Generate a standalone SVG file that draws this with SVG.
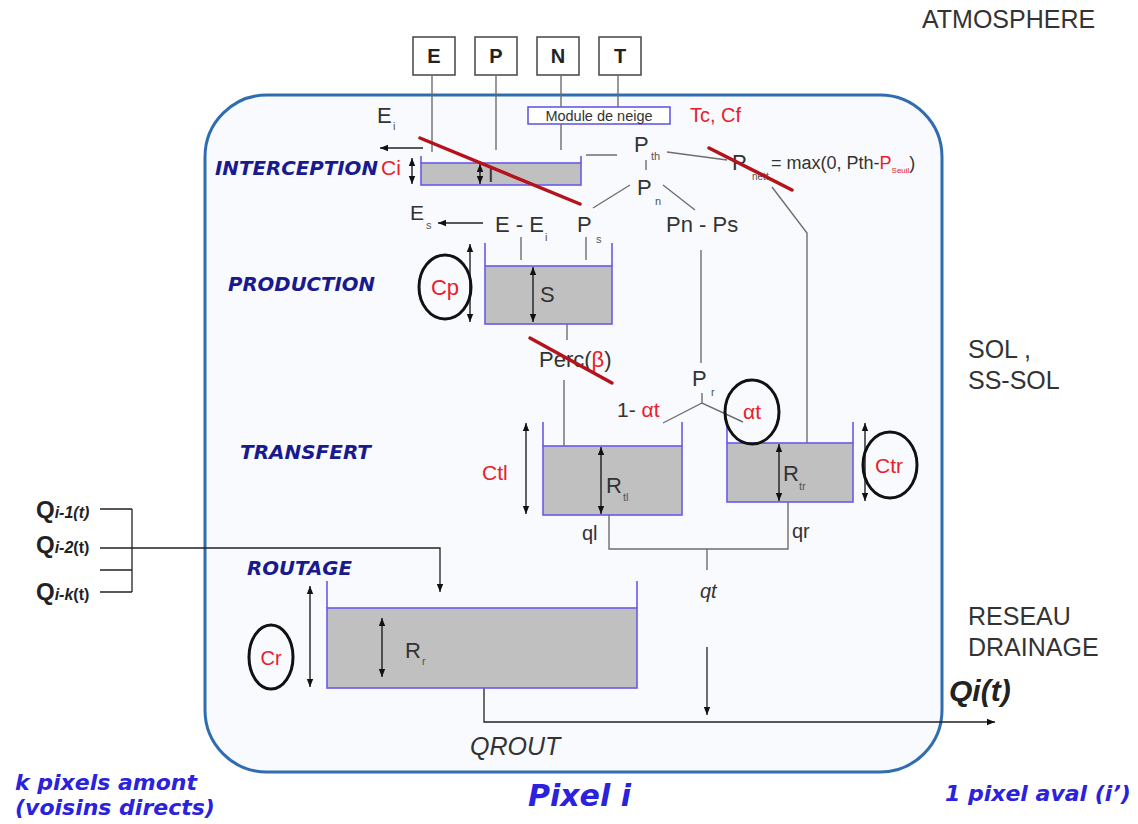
<svg xmlns="http://www.w3.org/2000/svg" width="1138" height="824" viewBox="0 0 1138 824">
<defs>
<style>
.sans{font-family:"Liberation Sans",Arial,sans-serif;fill:#333}
.sub{font-family:"Liberation Sans",Arial,sans-serif;fill:#555}
.lbl{font-family:"DejaVu Sans",Verdana,sans-serif;font-weight:bold;font-style:italic;fill:#1a1a8f;font-size:19.5px}
.blue{font-family:"DejaVu Sans",Verdana,sans-serif;font-weight:bold;font-style:italic;fill:#2a22dd}
.red{fill:#e8202a}
.tank{fill:#c0c0c0;stroke:#6a5ae6;stroke-width:1.6}
.wall{fill:none;stroke:#6a5ae6;stroke-width:1.6}
.con{fill:none;stroke:#6e6e6e;stroke-width:1.4}
.arr{fill:none;stroke:#222;stroke-width:1.3}
.dbl{fill:none;stroke:#111;stroke-width:1.3;marker-start:url(#ah);marker-end:url(#ah)}
.strike{stroke:#b5121b;stroke-width:3.5;stroke-linecap:round}
.ring{fill:none;stroke:#111;stroke-width:3}
.inbox{fill:#fff;stroke:#444;stroke-width:1.5}
</style>
<marker id="ah" viewBox="0 0 8 8" refX="8" refY="4" markerWidth="8" markerHeight="8" markerUnits="userSpaceOnUse" orient="auto-start-reverse"><path d="M0,0.8 L8,4 L0,7.2 z" fill="#111"/></marker>
</defs>
<rect width="1138" height="824" fill="#fff"/>

<g id="pixel-frame">
<rect x="205" y="95" width="737" height="677" rx="62" ry="62" fill="#f9fafd" stroke="#2f6db0" stroke-width="3"/>
</g>

<g id="zones" class="sans" font-size="25">
<text x="922" y="28">ATMOSPHERE</text>
<text x="968" y="358">SOL ,</text>
<text x="968" y="389">SS-SOL</text>
<text x="968" y="625">RESEAU</text>
<text x="968" y="656">DRAINAGE</text>
<text x="949" y="701" font-weight="bold" font-style="italic" font-size="30" style="fill:#222">Qi(t)</text>
</g>

<g id="inputs">
<rect class="inbox" x="413" y="37" width="42" height="38"/>
<rect class="inbox" x="475" y="37" width="42" height="38"/>
<rect class="inbox" x="537" y="37" width="42" height="38"/>
<rect class="inbox" x="599" y="37" width="42" height="38"/>
<g class="sans" font-weight="bold" font-size="20" text-anchor="middle" style="fill:#222">
<text x="434" y="63">E</text><text x="496" y="63">P</text><text x="558" y="63">N</text><text x="620" y="63">T</text>
</g>
</g>

<g id="snow-module">
<rect x="528" y="107" width="142" height="17" fill="#fff" stroke="#5a50e0" stroke-width="1.5"/>
<text class="sans" x="599" y="120.5" font-size="14.5" text-anchor="middle">Module de neige</text>
<text class="sans" x="690" y="122" font-size="20" style="fill:#e8202a">Tc, Cf</text>
</g>

<g id="connectors">
<path class="con" d="M432,75 V152 M496,75 V150 M561,75 V107 M561,124 V150 M618,75 V107"/>
<path class="con" d="M586,155 H617 M646,160 V170 M667,152 L727,160 M630,185 L593,208 M663,185 L695,210"/>
<path class="con" d="M772,187 L807,233 V443"/>
<path class="con" d="M586,237 V260 M521,237 V260 M701,250 V363"/>
<path class="con" d="M702,393 V403 M663,423 L702,403 L743,422"/>
<path class="con" d="M567,324 V340 M564,380 V446"/>
<path class="con" d="M609,515 V549 H788 V502 M707,549 V570"/>
<path class="arr" d="M423,148 H380" marker-end="url(#ah)"/>
<path class="arr" d="M483,223 H438" marker-end="url(#ah)"/>
<path class="arr" d="M707,647 V715" marker-end="url(#ah)"/>
<path class="arr" d="M484,688 V722 H995" marker-end="url(#ah)"/>
<path class="arr" d="M100,509 H132 M100,548 H132 M100,570 H132 M100,592 H132 M132,509 V592"/>
<path class="arr" d="M132,548 H440 V592" marker-end="url(#ah)"/>
</g>

<g id="interception">
<text class="lbl" x="215" y="175" textLength="163" lengthAdjust="spacingAndGlyphs">INTERCEPTION</text>
<rect class="tank" x="421" y="163" width="160" height="22"/>
<path class="wall" d="M421,156 V163 M581,156 V163"/>
<path class="dbl" d="M412,158 V184"/>
<path class="dbl" d="M480,164 V184"/>
<text class="sans" x="381" y="175" font-size="21" style="fill:#e8202a">Ci</text>
<text class="sans" x="488" y="182" font-size="20">I</text>
<text class="sans" x="377" y="123" font-size="22">E</text>
<text class="sub" x="393" y="130" font-size="11">i</text>
</g>

<g id="precip">
<text class="sans" x="634" y="152" font-size="22">P</text>
<text class="sub" x="651" y="160" font-size="11">th</text>
<text class="sans" x="637" y="195" font-size="22">P</text>
<text class="sub" x="655" y="205" font-size="11">n</text>
<text class="sans" x="732" y="170" font-size="22">P</text>
<text class="sub" x="752" y="180" font-size="10">nett</text>
<text class="sans" x="771" y="169" font-size="18">= max(0, Pth-<tspan style="fill:#e8202a">P</tspan><tspan style="fill:#e8202a" font-size="8" dy="4">Seuil</tspan><tspan dy="-4">)</tspan></text>
</g>

<g id="production">
<text class="lbl" x="228" y="291" textLength="147" lengthAdjust="spacingAndGlyphs">PRODUCTION</text>
<text class="sans" x="410" y="220" font-size="21">E</text>
<text class="sub" x="426" y="229" font-size="11">s</text>
<text class="sans" x="495" y="232" font-size="22">E - E</text>
<text class="sub" x="545" y="241" font-size="11">i</text>
<text class="sans" x="577" y="232" font-size="22">P</text>
<text class="sub" x="596" y="243" font-size="11">s</text>
<text class="sans" x="666" y="232" font-size="22">Pn - Ps</text>
<rect class="tank" x="485" y="266" width="127" height="58"/>
<path class="wall" d="M485,243 V266 M612,243 V266"/>
<path class="dbl" d="M470,244 V322"/>
<path class="dbl" d="M533,267 V322"/>
<text class="sans" x="540" y="302" font-size="22">S</text>
<ellipse class="ring" cx="445" cy="287" rx="26" ry="32"/>
<text class="sans" x="445" y="295" font-size="22" text-anchor="middle" style="fill:#e8202a">Cp</text>
<text class="sans" x="539" y="367" font-size="22">Perc(<tspan style="fill:#e8202a">β</tspan>)</text>
</g>

<g id="transfert">
<text class="lbl" x="240" y="459" textLength="131" lengthAdjust="spacingAndGlyphs">TRANSFERT</text>
<text class="sans" x="692" y="386" font-size="22">P</text>
<text class="sub" x="711" y="396" font-size="11">r</text>
<text class="sans" x="617" y="417" font-size="21">1- <tspan style="fill:#e8202a">αt</tspan></text>
<rect class="tank" x="543" y="446" width="139" height="69"/>
<path class="wall" d="M543,422 V446 M682,422 V446"/>
<path class="dbl" d="M526,423 V514"/>
<path class="dbl" d="M601,447 V514"/>
<text class="sans" x="482" y="480" font-size="21" style="fill:#e8202a">Ctl</text>
<text class="sans" x="606" y="493" font-size="22">R</text>
<text class="sub" x="623" y="501" font-size="11">tl</text>
<rect class="tank" x="727" y="443" width="126" height="59"/>
<path class="wall" d="M727,422 V443 M853,422 V443"/>
<path class="dbl" d="M779,444 V501"/>
<path class="dbl" d="M865,423 V501"/>
<text class="sans" x="783" y="481" font-size="22">R</text>
<text class="sub" x="799" y="490" font-size="11">tr</text>
<ellipse class="ring" cx="752" cy="412" rx="27" ry="32"/>
<text class="sans" x="752" y="419" font-size="21" text-anchor="middle" style="fill:#e8202a">αt</text>
<ellipse class="ring" cx="890" cy="465" rx="27" ry="33"/>
<text class="sans" x="889" y="473" font-size="21" text-anchor="middle" style="fill:#e8202a">Ctr</text>
<text class="sans" x="582" y="540" font-size="20">ql</text>
<text class="sans" x="792" y="538" font-size="20">qr</text>
<text class="sans" x="700" y="598" font-size="20" font-style="italic">qt</text>
</g>

<g id="routage">
<text class="lbl" x="247" y="575" textLength="105" lengthAdjust="spacingAndGlyphs">ROUTAGE</text>
<rect class="tank" x="327" y="608" width="310" height="80"/>
<path class="wall" d="M327,581 V608 M637,581 V608"/>
<path class="dbl" d="M310,586 V687"/>
<path class="dbl" d="M382,618 V677"/>
<text class="sans" x="405" y="658" font-size="22">R</text>
<text class="sub" x="422" y="665" font-size="11">r</text>
<ellipse class="ring" cx="271" cy="657" rx="22" ry="32"/>
<text class="sans" x="271" y="665" font-size="20" text-anchor="middle" style="fill:#e8202a">Cr</text>
<text class="sans" x="470" y="755" font-size="25" font-style="italic">QROUT</text>
</g>

<g id="upstream" class="sans" font-weight="bold" style="fill:#222">
<text x="36" y="518" font-size="24">Q<tspan font-size="16" font-style="italic">i-1(t)</tspan></text>
<text x="36" y="553" font-size="24">Q<tspan font-size="16" font-style="italic">i-2</tspan><tspan font-size="16">(t)</tspan></text>
<text x="36" y="600" font-size="24">Q<tspan font-size="16" font-style="italic">i-k</tspan><tspan font-size="16">(t)</tspan></text>
</g>

<g id="strikes">
<line class="strike" x1="420" y1="138" x2="580" y2="204"/>
<line class="strike" x1="709" y1="148" x2="792" y2="190"/>
<line class="strike" x1="530" y1="338" x2="612" y2="383"/>
</g>

<g id="captions">
<text class="blue" x="15" y="790" font-size="22">k pixels amont</text>
<text class="blue" x="15" y="815" font-size="22">(voisins directs)</text>
<text class="blue" x="528" y="806" font-size="30">Pixel i</text>
<text class="blue" x="945" y="801" font-size="22">1 pixel aval (i’)</text>
</g>
</svg>
